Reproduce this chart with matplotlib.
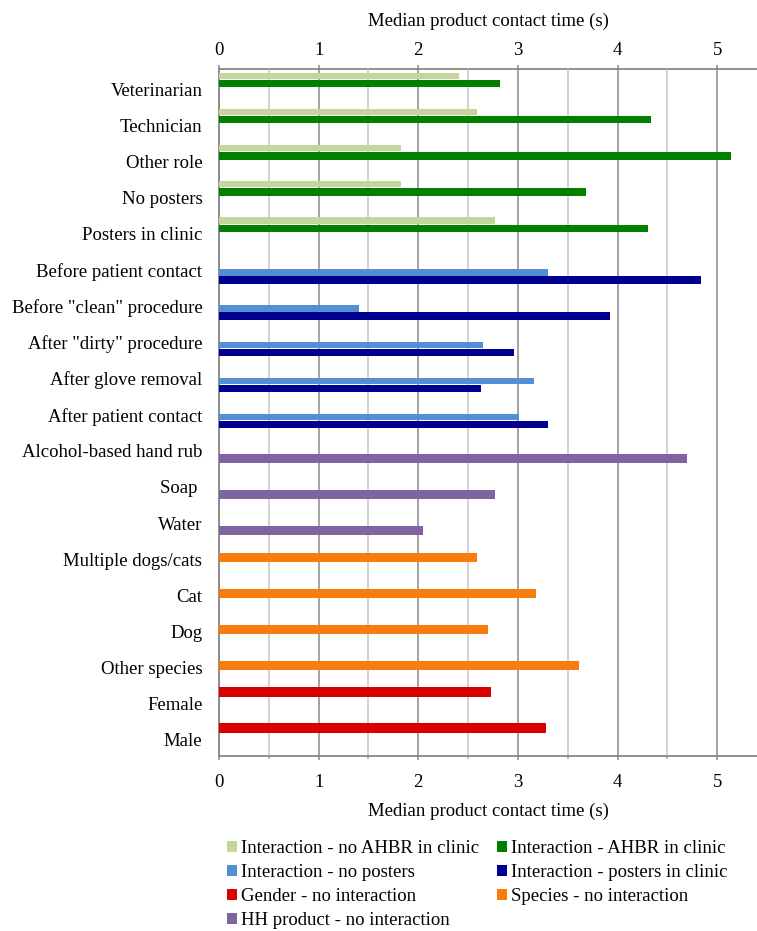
import matplotlib
matplotlib.use("Agg")
from matplotlib import pyplot as plt
from matplotlib.ticker import MultipleLocator

categories = ["Veterinarian", "Technician", "Other role", "No posters", "Posters in clinic",
              "Before patient contact", 'Before "clean" procedure', 'After "dirty" procedure',
              "After glove removal", "After patient contact",
              "Alcohol-based hand rub", "Soap ", "Water",
              "Multiple dogs/cats", "Cat", "Dog", "Other species",
              "Female", "Male"]

# values per series, with the rows they sit on
no_ahbr = [2.41, 2.59, 1.83, 1.83, 2.77]
ahbr = [2.82, 4.34, 5.14, 3.68, 4.31]
ahbr_rows = [0, 1, 2, 3, 4]
no_posters = [3.30, 1.41, 2.65, 3.16, 3.01]
posters = [4.84, 3.92, 2.96, 2.63, 3.30]
poster_rows = [5, 6, 7, 8, 9]
hh_product = [4.70, 2.77, 2.05]
hh_rows = [10, 11, 12]
species = [2.59, 3.18, 2.70, 3.61]
species_rows = [13, 14, 15, 16]
gender = [2.73, 3.28]
gender_rows = [17, 18]
ticks = [0, 1, 2, 3, 4, 5]

plt.rcParams['font.family'] = ['Liberation Serif', 'DejaVu Serif']
plt.rcParams['font.size'] = 13.5

fig = plt.figure(figsize=(7.57, 9.31), dpi=100)
W, H = 757, 931
ax = fig.add_axes([219 / W, 1 - 755.5 / H, 538 / W, (755.5 - 69) / H])

# (values, rows, offset, height, colour, label)
series = [
    (no_ahbr, ahbr_rows, -0.37, 0.17, "#C3D69B", "Interaction - no AHBR in clinic"),
    (no_posters, poster_rows, 0.07, 0.18, "#558ED5", "Interaction - no posters"),
    (gender, gender_rows, -0.33, 0.265, "#D90000", "Gender - no interaction"),
    (hh_product, hh_rows, 0.21, 0.235, "#8064A2", "HH product - no interaction"),
    (ahbr, ahbr_rows, -0.155, 0.20, "#007F00", "Interaction - AHBR in clinic"),
    (posters, poster_rows, 0.277, 0.205, "#000090", "Interaction - posters in clinic"),
    (species, species_rows, -0.052, 0.26, "#FB7C0E", "Species - no interaction"),
]

handles = []
for vals, rows, off, h, col, lab in series:
    ys = [r + off for r in rows]
    b = ax.barh(ys, vals, height=h, color=col, label=lab, zorder=3)
    handles.append(b)

ax.set_yticks(range(len(categories)))
ax.set_yticklabels(categories)
ax.set_ylim(18.43, -0.56)
ax.set_xlim(0, 5.4)

ax.set_xticks(ticks)
ax.xaxis.set_minor_locator(MultipleLocator(0.5))
ax.grid(True, which='major', axis='x', color='#8a8a8a', lw=1.1, zorder=0)
ax.grid(True, which='minor', axis='x', color='#c6c6c6', lw=1.1, zorder=0)
ax.set_axisbelow(True)

for s in ['left', 'bottom']:
    ax.spines[s].set_color('#878787')
    ax.spines[s].set_linewidth(1.3)
ax.spines['right'].set_visible(False)
ax.spines['top'].set_visible(False)

ax.tick_params(axis='y', length=0, pad=12)
ax.tick_params(axis='x', which='major', length=3, width=1.1, color='#878787', pad=10.5)
ax.tick_params(axis='x', which='minor', length=2, width=1.1, color='#b0b0b0')
ax.set_xlabel("Median product contact time (s)", labelpad=8)

top = ax.secondary_xaxis('top')
top.set_xticks(ticks)
top.spines['top'].set_color('#878787')
top.spines['top'].set_linewidth(1.3)
top.tick_params(axis='x', length=3, width=1.1, color='#878787', pad=4.5)
top.set_xlabel("Median product contact time (s)", labelpad=11)

fig.legend(handles=handles, loc='upper left', bbox_to_anchor=(227 / W, 1 - 840 / H),
           ncol=2, frameon=False, borderpad=0, borderaxespad=0,
           handlelength=0.55, handleheight=0.55, handletextpad=0.2,
           labelspacing=0.38, columnspacing=0.95)

fig.savefig("out.png", dpi=100)
